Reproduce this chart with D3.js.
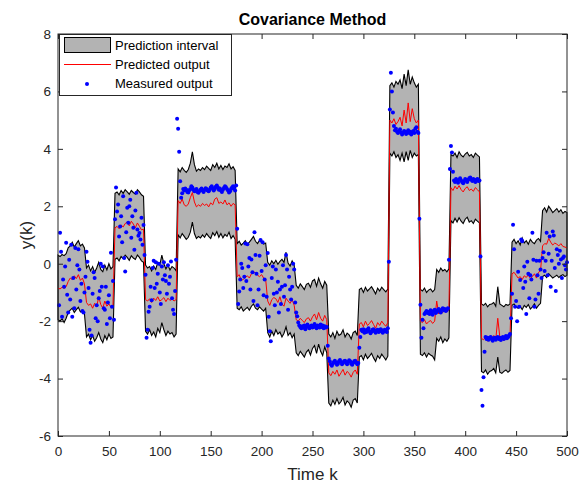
<!DOCTYPE html>
<html>
<head>
<meta charset="utf-8">
<script src="https://cdn.jsdelivr.net/npm/d3@7"></script>
<style>
  body { margin: 0; background: #fff; }
  text { font-family: "Liberation Sans", Arial, Helvetica, sans-serif; }
</style>
</head>
<body>
<div id="container"></div>
<script>
/**
 * DATA
 * band + predicted: one value every 2 samples, grouped by input step
 * */
const segStart = [0, 28, 56, 86, 118, 176, 206, 234, 266, 296, 326, 356, 386, 416, 446, 476];

const predicted = [
  [-0.85, -0.88, -0.82, -0.86, -0.80, -0.62, -0.50, -0.55, -0.42, -0.52, -0.38, -0.58, -0.50, -0.70],
  [-1.35, -1.45, -1.40, -1.55, -1.38, -1.50, -1.15, -1.42, -1.55, -1.30, -1.48, -1.40, -1.52, -1.45],
  [1.25, 1.30, 1.22, 1.35, 1.28, 1.40, 1.45, 1.32, 1.48, 1.38, 1.25, 1.42, 1.30, 1.18, 1.20],
  [-1.25, -1.30, -1.22, -1.35, -1.20, -1.28, -1.15, -1.30, -1.25, -1.18, -1.32, -1.20, -1.28, -1.22, -1.30, -1.25],
  [2.20, 2.10, 2.25, 2.05, 2.00, 2.08, 2.30, 2.48, 2.15, 1.98, 2.05, 2.00, 2.10, 2.03, 2.08, 1.98, 2.12, 2.05, 2.25, 2.30, 2.10, 2.15, 2.08, 2.22, 2.05, 2.12, 2.00, 2.10, 2.05],
  [-0.45, -0.38, -0.58, -0.55, -0.48, -0.42, -0.50, -0.35, -0.28, -0.32, -0.40, -0.45, -0.38, -0.50, -0.55],
  [-1.30, -1.45, -1.25, -1.18, -1.22, -1.35, -1.15, -1.40, -1.48, -1.20, -1.30, -1.38, -1.25, -1.45],
  [-1.95, -2.00, -1.90, -1.98, -2.05, -1.92, -1.88, -2.00, -1.85, -1.75, -1.95, -1.70, -1.90, -2.00, -1.80, -1.95],
  [-3.80, -3.90, -3.75, -3.85, -3.70, -3.92, -3.80, -3.68, -3.88, -3.75, -3.82, -3.95, -3.78, -3.70, -3.85],
  [-2.10, -2.05, -2.20, -2.00, -2.15, -2.08, -1.98, -2.12, -2.25, -2.05, -2.15, -2.00, -2.10, -2.18, -2.05],
  [5.00, 4.90, 5.05, 4.85, 4.95, 5.10, 4.80, 5.35, 4.90, 5.60, 4.95, 5.40, 5.05, 4.90, 5.00],
  [-2.00, -2.05, -1.95, -2.10, -2.02, -1.98, -2.08, -2.00, -1.30, -1.75, -1.65, -1.70, -1.60, -1.68, -1.62],
  [2.65, 2.55, 2.70, 2.60, 2.72, 2.58, 2.50, 2.62, 2.68, 2.55, 2.60, 2.52, 2.65, 2.58, 2.50],
  [-2.60, -2.65, -2.55, -2.70, -2.62, -2.58, -2.50, -2.65, -1.90, -2.55, -2.62, -2.68, -2.58, -2.60, -2.55],
  [-0.35, -0.30, -0.40, -0.50, -0.45, -0.55, -0.42, -0.48, -0.38, -0.52, -0.45, -0.35, -0.50, -0.30, -0.25],
  [0.62, 0.70, 0.68, 0.88, 0.75, 0.65, 0.72, 0.68, 0.62, 0.70, 0.60, 0.58, 0.55]
];

const upper = [
  [0.30, 0.25, 0.32, 0.28, 0.35, 0.55, 0.62, 0.75, 0.58, 0.70, 0.80, 0.62, 0.68, 0.55],
  [-0.15, -0.05, -0.25, -0.10, -0.30, -0.15, 0.05, -0.20, -0.28, -0.05, -0.22, 0.00, -0.18, -0.10],
  [2.45, 2.50, 2.40, 2.55, 2.45, 2.58, 2.50, 2.42, 2.55, 2.48, 2.42, 2.58, 2.50, 2.40, 2.35],
  [-0.05, -0.15, -0.10, -0.25, -0.08, -0.20, 0.05, -0.05, 0.30, 0.00, -0.18, -0.05, -0.22, -0.10, -0.15, -0.25],
  [3.30, 3.20, 3.35, 3.25, 3.18, 3.28, 3.50, 3.90, 3.45, 3.22, 3.30, 3.25, 3.35, 3.28, 3.40, 3.32, 3.25, 3.45, 3.35, 3.50, 3.30, 3.42, 3.28, 3.40, 3.35, 3.48, 3.30, 3.38, 3.25],
  [0.70, 0.78, 0.65, 0.72, 0.80, 0.68, 0.75, 0.85, 0.95, 0.78, 0.70, 0.82, 0.75, 0.68, 0.72],
  [0.05, -0.05, 0.10, 0.00, 0.12, -0.02, 0.08, 0.15, 0.05, 0.40, 0.02, -0.08, 0.10, -0.05],
  [-0.75, -0.85, -0.70, -0.80, -0.90, -0.72, -0.68, -0.82, -0.60, -0.55, -0.78, -0.50, -0.70, -0.85, -0.62, -0.75],
  [-2.45, -2.55, -2.40, -2.60, -2.35, -2.50, -2.45, -2.30, -2.55, -2.42, -2.48, -2.62, -2.40, -2.35, -2.50],
  [-0.90, -0.85, -1.00, -0.82, -0.95, -0.88, -0.80, -0.92, -1.05, -0.85, -0.95, -0.82, -0.90, -0.98, -0.88],
  [6.20, 6.30, 6.15, 6.35, 6.25, 6.40, 6.10, 6.60, 6.20, 6.75, 6.25, 6.50, 6.30, 6.15, 6.25],
  [-0.90, -0.95, -0.85, -1.00, -0.92, -0.88, -0.98, -0.90, -0.20, -0.30, -0.15, -0.25, -0.20, -0.28, -0.18],
  [3.80, 3.75, 3.85, 3.70, 3.90, 3.78, 3.72, 3.82, 3.88, 3.75, 3.80, 3.70, 3.85, 3.78, 3.72],
  [-1.40, -1.45, -1.38, -1.50, -1.42, -1.40, -1.35, -1.48, -0.80, -1.40, -1.45, -1.50, -1.42, -1.45, -1.40],
  [0.75, 0.85, 0.70, 0.80, 0.65, 0.90, 0.72, 0.80, 0.68, 0.85, 0.75, 0.70, 0.82, 0.88, 0.78],
  [1.85, 1.95, 1.80, 2.00, 1.90, 1.78, 1.85, 1.92, 1.80, 1.88, 1.75, 1.82, 1.78]
];

const lower = [
  [-1.95, -2.00, -1.92, -2.05, -1.90, -1.70, -1.62, -1.55, -1.70, -1.60, -1.52, -1.68, -1.62, -1.75],
  [-2.55, -2.45, -2.65, -2.50, -2.70, -2.58, -2.40, -2.62, -2.75, -2.50, -2.65, -2.45, -2.60, -2.55],
  [0.15, 0.20, 0.10, 0.25, 0.18, 0.30, 0.22, 0.12, 0.28, 0.20, 0.15, 0.30, 0.22, 0.10, 0.05],
  [-2.35, -2.45, -2.30, -2.50, -2.38, -2.55, -2.25, -2.40, -2.05, -2.30, -2.50, -2.35, -2.45, -2.40, -2.55, -2.45],
  [1.00, 0.90, 1.05, 0.95, 0.85, 0.92, 1.10, 1.45, 1.05, 0.88, 0.95, 0.90, 1.00, 0.92, 1.05, 0.95, 0.88, 1.08, 0.98, 1.12, 0.92, 1.05, 0.90, 1.02, 0.95, 1.10, 0.88, 0.98, 0.85],
  [-1.55, -1.60, -1.50, -1.65, -1.58, -1.52, -1.62, -1.48, -1.40, -1.55, -1.60, -1.50, -1.58, -1.65, -1.55],
  [-2.40, -2.55, -2.35, -2.50, -2.30, -2.45, -2.38, -2.55, -2.42, -2.20, -2.50, -2.40, -2.58, -2.45],
  [-3.10, -3.20, -3.05, -3.15, -3.25, -3.08, -3.00, -3.18, -2.95, -2.85, -3.12, -2.80, -3.05, -3.20, -2.90, -3.10],
  [-4.85, -4.95, -4.75, -4.90, -4.70, -4.88, -4.80, -4.65, -4.92, -4.78, -4.85, -5.00, -4.75, -4.70, -4.85],
  [-3.25, -3.20, -3.35, -3.15, -3.30, -3.22, -3.12, -3.28, -3.40, -3.20, -3.30, -3.15, -3.25, -3.35, -3.22],
  [3.85, 3.75, 3.90, 3.70, 3.80, 3.60, 3.85, 3.55, 3.90, 3.60, 3.95, 3.70, 3.85, 3.75, 3.80],
  [-3.15, -3.20, -3.10, -3.25, -3.12, -3.18, -3.22, -3.35, -2.60, -2.70, -2.55, -2.75, -2.62, -2.70, -2.58],
  [1.50, 1.42, 1.58, 1.45, 1.60, 1.48, 1.40, 1.55, 1.62, 1.45, 1.50, 1.40, 1.55, 1.48, 1.42],
  [-3.75, -3.80, -3.70, -3.85, -3.75, -3.72, -3.65, -3.80, -3.25, -3.78, -3.82, -3.75, -3.70, -3.78, -3.72],
  [-1.45, -1.40, -1.50, -1.55, -1.48, -1.60, -1.45, -1.52, -1.42, -1.58, -1.50, -1.40, -1.55, -1.45, -1.38],
  [-0.45, -0.40, -0.48, -0.35, -0.42, -0.50, -0.45, -0.40, -0.48, -0.42, -0.38, -0.45, -0.40]
];

// measured output, one value per sample, blocks start at the given k
const measuredStart = [1, 28, 56, 86, 117, 176, 206, 234, 266, 296, 326, 356, 385, 416, 445, 475];
const measured = [
  [-1.45, 1.08, 0.42, -1.85, -0.55, -0.80, -0.10, 0.73, -1.08, -1.70, 0.14, -1.25, 0.66, -1.85, -0.50, -1.55, 0.55, -0.90, -0.05, 0.50, -0.20, -1.30, -0.70, -1.65, -1.70, -1.00, -0.45],
  [0.42, 0.07, -0.85, -2.30, -2.75, -2.50, -1.05, -0.30, -0.50, -1.90, -1.45, -2.00, -1.20, -0.95, 0.00, -0.80, -0.10, -1.55, -1.60, -0.80, -2.10, -1.35, -1.10, -1.90, 0.38, -1.50, -0.60, -1.95],
  [1.55, 2.65, 1.82, 2.06, 0.95, 1.30, 1.65, 0.75, 2.35, 0.20, -0.27, 1.10, 1.95, 1.43, 2.00, 2.23, 0.90, 1.65, 1.25, 0.49, 1.85, 2.47, 1.19, 0.97, 1.07, 0.84, 1.60, 0.66, 1.35, 0.30],
  [-0.38, -2.58, -2.30, -1.67, -1.50, -0.80, -1.27, -0.15, 0.10, -0.85, 0.05, -0.70, -0.35, 0.00, -1.00, -1.40, -0.10, -0.55, 0.05, -0.40, -0.60, -1.05, -0.05, -0.70, -0.45, 0.08, -1.20, -1.60, -1.75, -0.95, 0.14],
  [5.05, 4.70, 3.90, 2.87, 2.30, 2.45, 2.60,
   2.55, 2.62, 2.58, 2.50, 2.48, 2.56, 2.60, 2.70, 2.65, 2.58, 2.52, 2.55, 2.60, 2.50, 2.47, 2.53, 2.58, 2.62, 2.55, 2.50, 2.57, 2.63, 2.60, 2.55, 2.52, 2.58,
   2.65, 2.70, 2.62, 2.55, 2.60, 2.68, 2.72, 2.65, 2.58, 2.62, 2.55, 2.50, 2.58, 2.64, 2.70, 2.66, 2.60, 2.55, 2.48, 2.52, 2.60, 2.65, 2.70, 2.62, 2.55, 2.72],
  [1.22, -1.40, -0.97, -0.55, 0.00, -0.15, -0.85, -0.45, 0.70, -0.60, 0.68, -0.10, 0.20, -0.90, 0.15, -0.30, -1.30, 1.10, 0.30, -0.35, -1.45, -0.90, 0.28, 0.83, -0.25, 0.75, -1.10, -0.55, -0.05, -1.15],
  [0.37, -1.85, -2.35, -2.70, -0.50, -0.10, -1.05, -1.45, -0.20, -1.00, -0.63, -1.70, -0.90, -1.40, -0.80, -0.05, -1.15, -0.75, 0.30, -0.20, -1.60, -0.45, -0.90, -1.25, -0.80, 0.00, -0.20, -1.35],
  [-1.70, -1.83, -2.05,
   -2.15, -2.20, -2.25, -2.18, -2.22, -2.15, -2.28, -2.20, -2.12, -2.18, -2.25, -2.20, -2.15, -2.22, -2.18, -2.10, -2.20, -2.25, -2.15, -2.18, -2.22, -2.12, -2.20, -2.15, -2.25, -2.18, -2.22, -2.20,
   -2.86],
  [-3.30, -3.40, -3.50, -3.55, -3.48, -3.42, -3.38, -3.45, -3.52, -3.48, -3.40, -3.35, -3.42, -3.50, -3.45, -3.40, -3.38, -3.45, -3.50, -3.42, -3.36, -3.40, -3.48, -3.52, -3.45, -3.40, -3.38, -3.44, -3.50, -3.46],
  [-2.93, -2.55,
   -2.30, -2.35, -2.28, -2.40, -2.32, -2.38, -2.30, -2.25, -2.35, -2.42, -2.36, -2.30, -2.28, -2.35, -2.40, -2.33, -2.30, -2.38, -2.35, -2.28, -2.32, -2.40, -2.36, -2.30, -2.34, -2.38, -2.25,
   0.07],
  [5.37, 6.65, 6.00, 5.27, 4.80,
   4.65, 4.70, 4.60, 4.55, 4.62, 4.68, 4.58, 4.50, 4.55, 4.62, 4.60, 4.52, 4.58, 4.65, 4.55, 4.60, 4.50, 4.58, 4.62, 4.55, 4.70, 4.75, 4.60,
   4.55, 1.57],
  [-1.43, -2.58, -1.95, -2.25,
   -1.75, -1.70, -1.65, -1.72, -1.68, -1.75, -1.62, -1.70, -1.78, -1.65, -1.60, -1.72, -1.68, -1.62, -1.58, -1.65, -1.70, -1.60, -1.55, -1.62, -1.58, -1.65, -1.60, -1.55,
   0.14],
  [3.30, 4.10, 3.87, 3.20,
   2.90, 2.85, 2.95, 2.88, 2.82, 2.92, 2.98, 2.90, 2.85, 2.80, 2.88, 2.95, 2.90, 2.85, 2.92, 2.98, 3.00, 2.92, 2.88, 2.95, 2.90, 2.85, 2.92, 2.95, 2.88, 2.90,
   0.25],
  [-4.40, -4.95, -3.95, -3.07,
   -2.55, -2.62, -2.58, -2.65, -2.60, -2.55, -2.62, -2.68, -2.60, -2.58, -2.65, -2.60, -2.55, -2.62, -2.58, -2.66, -2.60, -2.55, -2.62, -2.58, -2.52, -2.60, -2.56, -2.50, -2.45],
  [-1.90, -1.05, 1.36, 0.50, -1.50, -1.30, -2.00, -0.28, -1.50, -0.57, 0.84, 0.78, -0.85, -0.10, -0.63, -1.75, 0.07, -0.35, -1.20, -0.40, -0.55, 1.08, 0.14, -1.50, -1.25, 0.10, -0.40, -1.05, 0.10, -0.20],
  [-0.50, 0.20, 0.40, -0.25, 0.10, 1.08, -0.40, 0.35, 0.95, -0.80, 0.10, 1.12, 0.98, -0.15, -0.95, 0.50, 0.30, 0.00, 0.45, 0.15, -0.50, 0.20, 0.25, -0.05, -0.20, 0.05]
];

const xTicks = [0, 50, 100, 150, 200, 250, 300, 350, 400, 450, 500];
const yTicks = [-6, -4, -2, 0, 2, 4, 6, 8];
const legendLabels = ["Prediction interval", "Predicted output", "Measured output"];

/**
 * CONSTANTS
 * */
const width = 587,
  height = 483,
  margin = { top: 34, bottom: 47, left: 58, right: 20 };

const band = segStart.flatMap((s, i) => predicted[i].map((p, j) => ({
  k: s + 2 * j, p: p, hi: upper[i][j], lo: lower[i][j]
})));
const dots = measuredStart.flatMap((s, i) => measured[i].map((v, j) => ({ k: s + j, v: v })));

const svg = d3.select("#container")
  .append("svg")
  .attr("width", width)
  .attr("height", height);

const x = d3.scaleLinear().domain([0, 500]).range([margin.left, width - margin.right]);
const y = d3.scaleLinear().domain([-6, 8]).range([height - margin.bottom, margin.top]);

// prediction interval
svg.append("path")
  .datum(band)
  .attr("d", d3.area().x(d => x(d.k)).y0(d => y(d.lo)).y1(d => y(d.hi)))
  .attr("fill", "#b3b3b3")
  .attr("stroke", "#000")
  .attr("stroke-width", 1.1);

// predicted output
svg.append("path")
  .datum(band)
  .attr("d", d3.line().x(d => x(d.k)).y(d => y(d.p)))
  .attr("fill", "none")
  .attr("stroke", "#ff0000")
  .attr("stroke-width", 1);

// measured output
svg.selectAll("circle.meas")
  .data(dots)
  .join("circle")
  .attr("class", "meas")
  .attr("cx", d => x(d.k))
  .attr("cy", d => y(d.v))
  .attr("r", 2)
  .attr("fill", "#0000ff");

// axes box
const axisColor = "#262626";
svg.append("rect")
  .attr("x", margin.left)
  .attr("y", margin.top)
  .attr("width", width - margin.left - margin.right)
  .attr("height", height - margin.top - margin.bottom)
  .attr("fill", "none")
  .attr("stroke", axisColor)
  .attr("stroke-width", 1);

function styleAxis(g) {
  g.select(".domain").remove();
  g.selectAll("line").attr("stroke", axisColor);
  g.selectAll("text").attr("fill", axisColor).style("font-size", "13.5px")
    .style("font-family", '"Liberation Sans", Arial, sans-serif');
}

const plain = d => String(d);

svg.append("g")
  .attr("transform", `translate(0,${height - margin.bottom})`)
  .call(d3.axisBottom(x).tickValues(xTicks).tickSize(-5).tickPadding(10).tickFormat(plain))
  .call(styleAxis);
svg.append("g")
  .attr("transform", `translate(0,${margin.top})`)
  .call(d3.axisTop(x).tickValues(xTicks).tickSize(-5).tickFormat(""))
  .call(styleAxis);
svg.append("g")
  .attr("transform", `translate(${margin.left},0)`)
  .call(d3.axisLeft(y).tickValues(yTicks).tickSize(-5).tickPadding(7).tickFormat(plain))
  .call(styleAxis);
svg.append("g")
  .attr("transform", `translate(${width - margin.right},0)`)
  .call(d3.axisRight(y).tickValues(yTicks).tickSize(-5).tickFormat(""))
  .call(styleAxis);

// title and labels
svg.append("text")
  .text("Covariance Method")
  .attr("x", (margin.left + width - margin.right) / 2)
  .attr("y", 25)
  .attr("text-anchor", "middle")
  .style("font-size", "16px")
  .style("font-weight", "bold")
  .attr("fill", "#000");

svg.append("text")
  .text("Time k")
  .attr("x", (margin.left + width - margin.right) / 2)
  .attr("y", 480)
  .attr("text-anchor", "middle")
  .style("font-size", "17px")
  .attr("fill", axisColor);

svg.append("text")
  .text("y(k)")
  .attr("transform", `translate(32,${(margin.top + height - margin.bottom) / 2}) rotate(-90)`)
  .attr("text-anchor", "middle")
  .style("font-size", "17px")
  .attr("fill", axisColor);

// legend
const legend = svg.append("g");
legend.append("rect")
  .attr("x", 59.5).attr("y", 34.5)
  .attr("width", 172).attr("height", 61)
  .attr("fill", "#fff")
  .attr("stroke", axisColor);
legend.append("rect")
  .attr("x", 64.5).attr("y", 37.5)
  .attr("width", 46).attr("height", 15)
  .attr("fill", "#b3b3b3")
  .attr("stroke", "#000");
legend.append("line")
  .attr("x1", 64).attr("x2", 111)
  .attr("y1", 64.5).attr("y2", 64.5)
  .attr("stroke", "#ff0000");
legend.append("circle")
  .attr("cx", 87).attr("cy", 84)
  .attr("r", 2)
  .attr("fill", "#0000ff");
legend.selectAll(".legend")
  .data(legendLabels)
  .join("text")
  .attr("class", "legend")
  .attr("x", 115)
  .attr("y", (_, i) => [50, 68.5, 88][i])
  .text(d => d)
  .style("font-size", "13px")
  .attr("fill", "#000");
</script>
</body>
</html>
